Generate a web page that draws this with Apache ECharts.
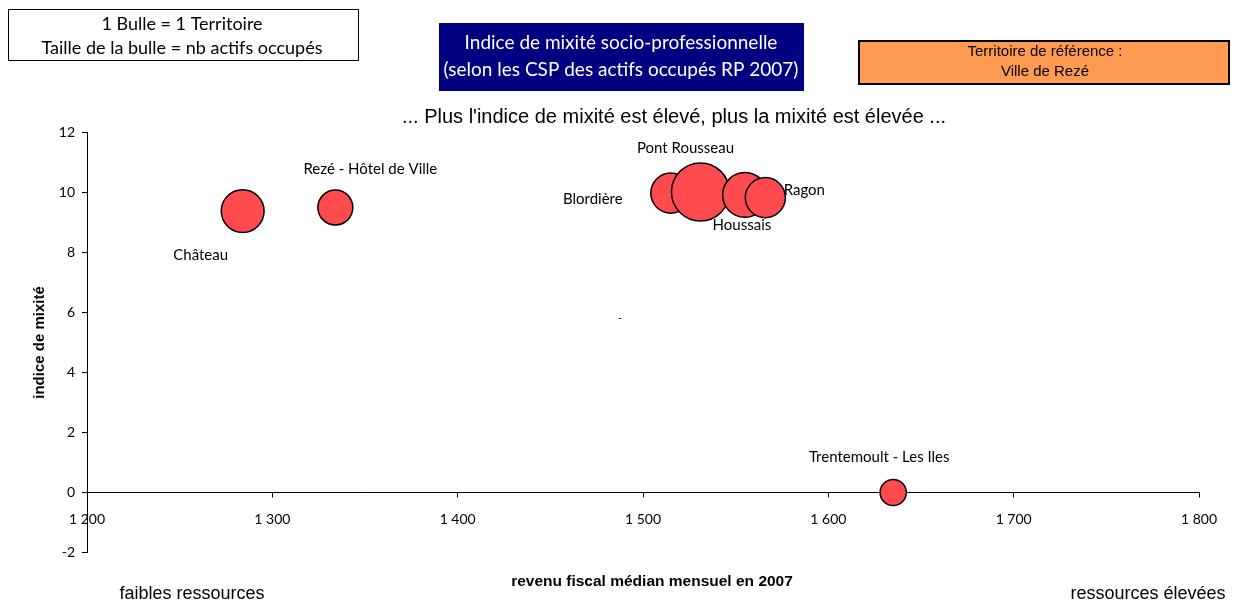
<!DOCTYPE html>
<html>
<head>
<meta charset="utf-8">
<title>Indice de mixité socio-professionnelle</title>
<script src="https://cdn.jsdelivr.net/npm/echarts@6/dist/echarts.min.js"></script>
<style>
  html, body { margin: 0; padding: 0; background: #fff; }
  #chart { width: 1234px; height: 602px; }
</style>
</head>
<body>
<div id="chart"></div>
<script>
// territoires (1 bulle = 1 territoire)
const territoires = ['Château', 'Rezé - Hôtel de Ville', 'Blordière', 'Pont Rousseau', 'Houssais', 'Ragon', 'Trentemoult - Les Iles']
// revenu fiscal médian mensuel en 2007
const revenus = [1284, 1334, 1515, 1531, 1555, 1566, 1635]
// indice de mixité
const indices = [9.38, 9.5, 9.98, 10.02, 9.92, 9.83, 0]
// nb actifs occupés (taille de la bulle)
const actifs = [2400, 1600, 2100, 4400, 2600, 2100, 900]
// axis ticks
const xTicks = [1200, 1300, 1400, 1500, 1600, 1700, 1800]
const yTicks = [-2, 0, 2, 4, 6, 8, 10, 12]

// where each name sits around its bubble
const labelOffsets = [[-42, 44], [35, -38], [-78, 6], [-15, -44], [-3, 30], [39, -7], [-14, -35]]

const maxActifs = Math.max(...actifs)
const bubbleSize = v => 58 * Math.sqrt(v / maxActifs)

const chart = echarts.init(document.getElementById('chart'))

const labelFont = 'Lato, "Open Sans", sans-serif'
const arial = '"Liberation Sans", Arial, sans-serif'

const option = {
  animation: false,
  grid: { left: 87, top: 132.5, width: 1112, height: 420, containLabel: false },
  xAxis: {
    type: 'value',
    min: xTicks[0],
    max: xTicks[xTicks.length - 1],
    interval: 100,
    axisLine: { show: true, onZero: true, lineStyle: { color: '#000', width: 1 } },
    axisTick: { show: true, inside: false, length: 5, lineStyle: { color: '#000' } },
    splitLine: { show: false },
    axisLabel: {
      color: '#000',
      fontFamily: labelFont,
      fontSize: 14,
      margin: 20,
      formatter: v => String(v).replace(/\B(?=(\d{3})+(?!\d))/g, ' ')
    }
  },
  yAxis: {
    type: 'value',
    min: yTicks[0],
    max: yTicks[yTicks.length - 1],
    interval: 2,
    name: 'indice de mixité',
    nameLocation: 'middle',
    nameRotate: 90,
    nameGap: 40,
    nameTextStyle: { color: '#000', fontFamily: arial, fontWeight: 'bold', fontSize: 15 },
    axisLine: { show: true, onZero: false, lineStyle: { color: '#000', width: 1 } },
    axisTick: { show: true, inside: false, length: 5, lineStyle: { color: '#000' } },
    splitLine: { show: false },
    axisLabel: { color: '#000', fontFamily: labelFont, fontSize: 14, margin: 12 }
  },
  series: [
    {
      type: 'scatter',
      data: territoires.map((name, i) => ({
        name: name,
        value: [revenus[i], indices[i], actifs[i]],
        label: { offset: labelOffsets[i] }
      })),
      symbol: 'circle',
      symbolSize: d => bubbleSize(d[2]),
      itemStyle: { color: '#FF4B4E', borderColor: '#000', borderWidth: 1.5, opacity: 1 },
      label: {
        show: true,
        position: 'inside',
        formatter: p => p.name,
        color: '#000',
        fontFamily: labelFont,
        fontSize: 15
      },
      emphasis: { disabled: true }
    }
  ],
  graphic: [
    // légende bulles
    {
      type: 'rect', left: 8, top: 9,
      shape: { width: 350, height: 51 },
      style: { fill: '#fff', stroke: '#000', lineWidth: 1 }
    },
    {
      type: 'text', x: 182, y: 24,
      style: { text: '1 Bulle = 1 Territoire', fill: '#000', font: '18px Lato, sans-serif', align: 'center', verticalAlign: 'middle' }
    },
    {
      type: 'text', x: 182, y: 48,
      style: { text: 'Taille de la bulle = nb actifs occupés', fill: '#000', font: '18px Lato, sans-serif', align: 'center', verticalAlign: 'middle' }
    },
    // titre
    {
      type: 'rect', left: 439, top: 23,
      shape: { width: 365, height: 68 },
      style: { fill: '#000080' }
    },
    {
      type: 'text', x: 621, y: 43,
      style: { text: 'Indice de mixité socio-professionnelle', fill: '#fff', font: '19px Lato, sans-serif', align: 'center', verticalAlign: 'middle' }
    },
    {
      type: 'text', x: 621, y: 70,
      style: { text: '(selon les CSP des actifs occupés RP 2007)', fill: '#fff', font: '19px Lato, sans-serif', align: 'center', verticalAlign: 'middle' }
    },
    // territoire de référence
    {
      type: 'rect', left: 858, top: 40,
      shape: { width: 370, height: 43 },
      style: { fill: '#FF9A52', stroke: '#000', lineWidth: 2 }
    },
    {
      type: 'text', x: 1045, y: 52,
      style: { text: 'Territoire de référence :', fill: '#000', font: '15px ' + arial, align: 'center', verticalAlign: 'middle' }
    },
    {
      type: 'text', x: 1045, y: 72,
      style: { text: 'Ville de Rezé', fill: '#000', font: '15px ' + arial, align: 'center', verticalAlign: 'middle' }
    },
    // sous-titre
    {
      type: 'text', x: 674, y: 117,
      style: { text: "... Plus l'indice de mixité est élevé, plus la mixité est élevée ...", fill: '#000', font: '20px ' + arial, align: 'center', verticalAlign: 'middle' }
    },
    {
      type: 'text', x: 620, y: 318,
      style: { text: '-', fill: '#000', font: '10px ' + arial, align: 'center', verticalAlign: 'middle' }
    },
    // axe x
    {
      type: 'text', x: 652, y: 582,
      style: { text: 'revenu fiscal médian mensuel en 2007', fill: '#000', font: 'bold 15.5px ' + arial, align: 'center', verticalAlign: 'middle' }
    },
    {
      type: 'text', x: 192, y: 594,
      style: { text: 'faibles ressources', fill: '#000', font: '18px ' + arial, align: 'center', verticalAlign: 'middle' }
    },
    {
      type: 'text', x: 1148, y: 594,
      style: { text: 'ressources élevées', fill: '#000', font: '18px ' + arial, align: 'center', verticalAlign: 'middle' }
    }
  ]
}

chart.setOption(option)

// the x labels sit just under the zero line, not under the grid
const zeroY = chart.convertToPixel({ yAxisIndex: 0 }, 0)
const bottomY = chart.convertToPixel({ yAxisIndex: 0 }, yTicks[0])
chart.setOption({ xAxis: { axisLabel: { margin: 20 - (bottomY - zeroY) } } })
</script>
</body>
</html>
